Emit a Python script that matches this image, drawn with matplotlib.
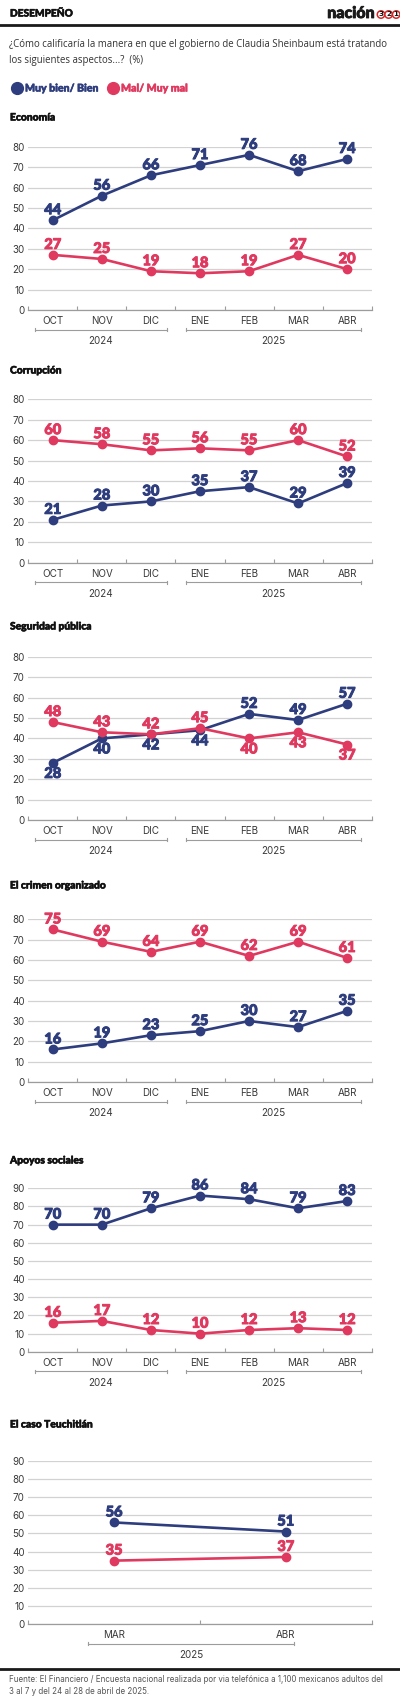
import matplotlib
matplotlib.use("Agg")
import matplotlib.pyplot as plt
import matplotlib.patheffects as pe
from matplotlib.lines import Line2D
from matplotlib.transforms import blended_transform_factory

W, H = 400, 1698
BLUE = "#2e3d7d"
PINK = "#e0395f"
GRID = "#d2d2d2"
BASE = "#9c9c9c"
TXT = "#3a3a3a"

# ---------------- data ----------------
months = ["OCT", "NOV", "DIC", "ENE", "FEB", "MAR", "ABR"]
months_teuch = ["MAR", "ABR"]
year_labels = ["2024", "2025"]

econ_bien = [44, 56, 66, 71, 76, 68, 74]
econ_mal = [27, 25, 19, 18, 19, 27, 20]
corr_bien = [21, 28, 30, 35, 37, 29, 39]
corr_mal = [60, 58, 55, 56, 55, 60, 52]
seg_bien = [28, 40, 42, 44, 52, 49, 57]
seg_mal = [48, 43, 42, 45, 40, 43, 37]
crim_bien = [16, 19, 23, 25, 30, 27, 35]
crim_mal = [75, 69, 64, 69, 62, 69, 61]
apo_bien = [70, 70, 79, 86, 84, 79, 83]
apo_mal = [16, 17, 12, 10, 12, 13, 12]
teu_bien = [56, 51]
teu_mal = [35, 37]

titles = ["Economía", "Corrupción", "Seguridad pública", "El crimen organizado",
          "Apoyos sociales", "El caso Teuchitlán"]

# ---------------- layout (pixels) ----------------
# (title_y, top_y, zero_y, ymax, crossing-label-mode)
layout = [
    (118, 146.7, 310.0, 80, False),
    (371, 399.3, 562.7, 80, False),
    (627, 656.7, 820.1, 80, True),
    (886, 919.3, 1082.0, 80, False),
    (1161, 1188.3, 1351.8, 90, False),
    (1425, 1460.7, 1624.2, 90, False),
]
series = [
    (months, econ_bien, econ_mal),
    (months, corr_bien, corr_mal),
    (months, seg_bien, seg_mal),
    (months, crim_bien, crim_mal),
    (months, apo_bien, apo_mal),
    (months_teuch, teu_bien, teu_mal),
]
brackets7 = [(year_labels[0], -0.37, 2.32), (year_labels[1], 2.72, 6.28)]
brackets2 = [(year_labels[1], -0.15, 1.05)]

fig = plt.figure(figsize=(W / 100, H / 100), dpi=100)
fig.patch.set_facecolor("white")


def fy(px):
    return 1 - px / H


def fx(px):
    return px / W


def heavy(col, w=0.5):
    return dict(family="Lato", fontweight="black",
                path_effects=[pe.withStroke(linewidth=w, foreground=col)])


# header
fig.text(fx(10), fy(14), "DESEMPEÑO", ha="left", va="center", fontsize=7.3,
         color="#111111", **heavy("#111111", 0.4))
fig.add_artist(Line2D([0, 1], [fy(25), fy(25)], transform=fig.transFigure,
                      color="#1a1a1a", lw=2.0))
fig.text(fx(375), fy(13), "nación", ha="right", va="center", fontsize=11.5,
         color="#1a1a1a", **heavy("#1a1a1a", 0.6))
for k, d in enumerate(["3", "2", "1"]):
    fig.text(fx(381 + k * 7.6), fy(14.5), d, ha="center", va="center", fontsize=5.2,
             color="#111111", fontweight="bold",
             bbox=dict(boxstyle="circle,pad=0.1", fc="white", ec="#d62828", lw=1.1))

# question
fig.text(fx(9), fy(45), "¿Cómo calificaría la manera en que el gobierno de Claudia Sheinbaum está tratando",
         ha="left", va="center", fontsize=6.95, color="#333333", family="Open Sans")
fig.text(fx(9), fy(61), "los siguientes aspectos...?  (%)",
         ha="left", va="center", fontsize=6.95, color="#333333", family="Open Sans")

# legend
fig.add_artist(Line2D([fx(17)], [fy(88)], transform=fig.transFigure, marker="o",
                      ms=8.5, color=BLUE, lw=0))
fig.text(fx(25), fy(88), "Muy bien/ Bien", ha="left", va="center", fontsize=7.6,
         color=BLUE, **heavy(BLUE, 0.4))
fig.add_artist(Line2D([fx(113)], [fy(88)], transform=fig.transFigure, marker="o",
                      ms=8.5, color=PINK, lw=0))
fig.text(fx(121), fy(88), "Mal/ Muy mal", ha="left", va="center", fontsize=7.6,
         color=PINK, **heavy(PINK, 0.4))

for title, (ty, ytop, y0, ymax, crossing), (cats, bien, mal) in zip(titles, layout, series):
    fig.text(fx(10), fy(ty), title, ha="left", va="center", fontsize=7.4,
             color="#111111", **heavy("#111111", 0.4))
    ax = fig.add_axes([fx(28.3), fy(y0), (371.7 - 28.3) / W, (y0 - ytop) / H])
    n = len(cats)
    xs = list(range(n))
    ax.set_xlim(-0.5, n - 0.5)
    ax.set_ylim(0, ymax)
    ax.set_yticks(range(0, ymax + 1, 10))
    ax.yaxis.grid(True, color=GRID, lw=0.9)
    ax.set_axisbelow(True)
    for s in ["top", "right", "left"]:
        ax.spines[s].set_visible(False)
    ax.spines["bottom"].set_color(BASE)
    ax.spines["bottom"].set_linewidth(0.9)
    ax.set_xticks(xs, cats)
    ax.set_xticks([i - 0.5 for i in range(n + 1)], minor=True)
    ax.tick_params(axis="x", which="major", length=0, pad=4.2, labelsize=7.1,
                   labelcolor=TXT)
    ax.tick_params(axis="x", which="minor", length=3, width=0.8, color=BASE,
                   direction="in")
    ax.tick_params(axis="y", length=0, pad=2.5, labelsize=7.1, labelcolor=TXT)
    for lab in ax.get_xticklabels() + ax.get_yticklabels():
        lab.set_family("Inter")

    ax.plot(xs, bien, color=BLUE, lw=1.9, marker="o", ms=6, zorder=3, clip_on=False)
    ax.plot(xs, mal, color=PINK, lw=1.9, marker="o", ms=6, zorder=4, clip_on=False)

    for vals, other, col, is_blue in [(bien, mal, BLUE, True), (mal, bien, PINK, False)]:
        for i, v in enumerate(vals):
            above = True
            if crossing:
                above = v > other[i] or (v == other[i] and not is_blue)
            ax.annotate(str(v), (i, v), xytext=(0, 10 if above else -11),
                        textcoords="offset pixels", ha="center", va="center",
                        fontsize=10.5, color=col, zorder=6, annotation_clip=False,
                        **heavy(col, 0.7))

    trans = blended_transform_factory(ax.transData, fig.transFigure)
    brs = brackets7 if n == 7 else brackets2
    for yl, a, b in brs:
        yb = fy(y0 + 19.5)
        ax.plot([a, b], [yb, yb], transform=trans, color=BASE, lw=0.8, clip_on=False)
        for e in (a, b):
            ax.plot([e, e], [fy(y0 + 18), fy(y0 + 21)], transform=trans, color=BASE,
                    lw=0.8, clip_on=False)
        ax.text((a + b) / 2, fy(y0 + 31), yl, transform=trans, ha="center",
                va="center", fontsize=7.1, color=TXT, family="Inter")

# footer
fig.add_artist(Line2D([0, 1], [fy(1669), fy(1669)], transform=fig.transFigure,
                      color="#1a1a1a", lw=2.0))
fig.text(fx(9), fy(1679.5), "Fuente: El Financiero / Encuesta nacional realizada por via telefónica a 1,100 mexicanos adultos del",
         ha="left", va="center", fontsize=5.75, color="#555555", family="Inter")
fig.text(fx(9), fy(1691), "3 al 7 y del 24 al 28 de abril de 2025.",
         ha="left", va="center", fontsize=5.75, color="#555555", family="Inter")

fig.savefig("out.png", dpi=100, facecolor="white")
